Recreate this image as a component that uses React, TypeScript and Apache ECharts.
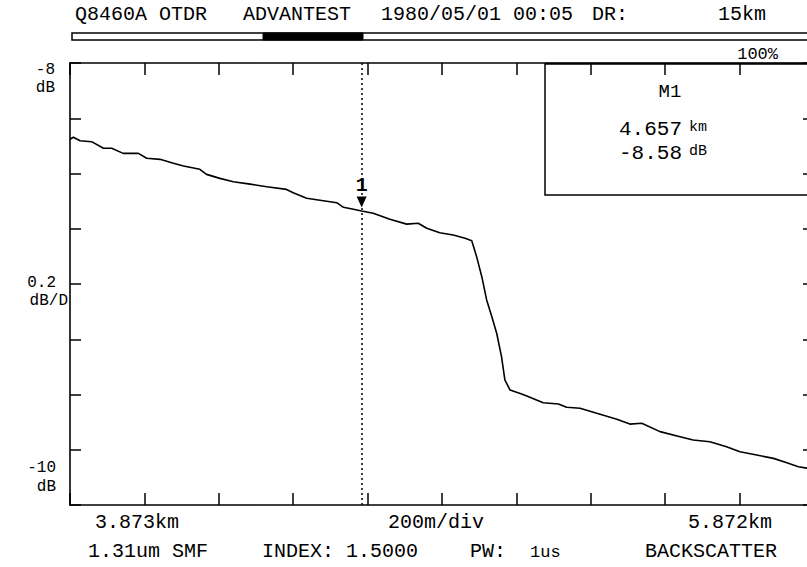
import React, { useEffect, useRef } from "react";
import * as echarts from "echarts";

// ---- data ----
const START_KM = 3.873;
const SPAN_M = 2000;
const DIV_M = 200;
const Y_MIN_DB = -10;
const Y_MAX_DB = -8;
const Y_STEP_DB = 0.25;

const distanceKm = [
  3.873, 3.882, 3.9, 3.931, 3.963, 3.985, 4.016, 4.057, 4.079, 4.115, 4.151,
  4.178, 4.222, 4.24, 4.276, 4.312, 4.357, 4.402, 4.455, 4.473, 4.509, 4.554,
  4.59, 4.608, 4.635, 4.657, 4.688, 4.733, 4.778, 4.809, 4.832, 4.867, 4.903,
  4.935, 4.953, 4.966, 4.98, 4.993, 5.007, 5.02, 5.033, 5.042, 5.056, 5.087,
  5.101, 5.145, 5.186, 5.208, 5.244, 5.289, 5.343, 5.378, 5.41, 5.459, 5.513,
  5.548, 5.593, 5.638, 5.674, 5.719, 5.764, 5.8, 5.831, 5.854, 5.873,
];
const levelDb = [
  -8.345, -8.336, -8.352, -8.356, -8.386, -8.386, -8.409, -8.409, -8.431,
  -8.436, -8.454, -8.466, -8.481, -8.504, -8.522, -8.537, -8.548, -8.56,
  -8.572, -8.587, -8.612, -8.623, -8.632, -8.653, -8.662, -8.67, -8.68,
  -8.707, -8.729, -8.725, -8.748, -8.768, -8.778, -8.793, -8.804, -8.876,
  -8.967, -9.072, -9.148, -9.223, -9.329, -9.434, -9.48, -9.498, -9.507,
  -9.537, -9.543, -9.558, -9.562, -9.585, -9.612, -9.634, -9.63, -9.668,
  -9.691, -9.706, -9.714, -9.736, -9.759, -9.774, -9.789, -9.809, -9.827,
  -9.833, -9.84,
];

const MARKER_KM = 4.657;
const MARKER_TRACE_DB = -8.67;
const MARKER_KM_TEXT = "4.657";
const MARKER_DB_TEXT = "-8.58";

const headerTexts = ["Q8460A OTDR", "ADVANTEST", "1980/05/01 00:05", "DR:", "15km"];
const footerTexts = ["1.31um SMF", "INDEX: 1.5000", "PW:", "1us", "BACKSCATTER"];
const axisTexts = ["3.873km", "200m/div", "5.872km"];
const leftTexts = ["-8", "dB", "0.2", "dB/D", "-10", "dB"];

const MONO = '"Liberation Mono", "DejaVu Sans Mono", monospace';

function txt(text: string, x: number, y: number, size: number, align = "left", weight = "normal") {
  return {
    type: "text",
    x,
    y,
    silent: true,
    style: {
      text,
      font: `${weight} ${size}px ${MONO}`,
      fill: "#000",
      align,
      verticalAlign: "middle",
      textAlign: align,
      textVerticalAlign: "middle",
    },
  };
}

export default function App() {
  const ref = useRef<HTMLDivElement>(null);

  useEffect(() => {
    if (!ref.current) return;
    const chart = echarts.init(ref.current, undefined, { renderer: "svg" });

    const seriesData = distanceKm.map((d, i) => [
      Math.round((d - START_KM) * 1000 * 10) / 10,
      levelDb[i],
    ]);
    const markerX = (MARKER_KM - START_KM) * 1000;

    const xAxisBase = {
      type: "value",
      min: 0,
      max: SPAN_M,
      interval: DIV_M,
      axisLine: { show: true, onZero: false, lineStyle: { color: "#000", width: 1.6 } },
      axisTick: { show: true, inside: true, length: 12, lineStyle: { color: "#000", width: 1.5 } },
      axisLabel: { show: false },
      splitLine: { show: false },
    };
    const yAxisBase = {
      type: "value",
      min: Y_MIN_DB,
      max: Y_MAX_DB,
      interval: Y_STEP_DB,
      axisLine: { show: true, onZero: false, lineStyle: { color: "#000", width: 1.6 } },
      axisTick: { show: true, inside: true, length: 11, lineStyle: { color: "#000", width: 1.5 } },
      axisLabel: { show: false },
      splitLine: { show: false },
    };

    const graphic: any[] = [
      // header
      txt(headerTexts[0], 75, 14, 20),
      txt(headerTexts[1], 243, 14, 20),
      txt(headerTexts[2], 381, 14, 20),
      txt(headerTexts[3], 592, 14, 20),
      txt(headerTexts[4], 718, 14, 20),
      // progress bar
      {
        type: "rect",
        silent: true,
        shape: { x: 72, y: 33, width: 750, height: 7 },
        style: { fill: "none", stroke: "#000", lineWidth: 1.5 },
      },
      {
        type: "rect",
        silent: true,
        shape: { x: 263, y: 33, width: 100, height: 7 },
        style: { fill: "#000", stroke: "#000", lineWidth: 1 },
      },
      txt("100%", 778, 54, 17, "right"),
      {
        type: "line",
        silent: true,
        shape: { x1: 545, y1: 64, x2: 822, y2: 64 },
        style: { stroke: "#000", lineWidth: 2.5 },
      },
      // marker box
      {
        type: "rect",
        silent: true,
        shape: { x: 545, y: 64, width: 290, height: 131 },
        style: { fill: "#fff", stroke: "#000", lineWidth: 1.5 },
      },
      txt("M1", 670, 92, 19, "center"),
      txt(MARKER_KM_TEXT, 682, 129, 21, "right"),
      txt("km", 689, 127, 15),
      txt(MARKER_DB_TEXT, 682, 153, 21, "right"),
      txt("dB", 689, 151, 15),
      // left labels
      txt(leftTexts[0], 55, 70, 16, "right"),
      txt(leftTexts[1], 55, 88, 16, "right"),
      txt(leftTexts[2], 56, 283, 16, "right"),
      txt(leftTexts[3], 68, 301, 16, "right"),
      txt(leftTexts[4], 56, 468, 16, "right"),
      txt(leftTexts[5], 56, 487, 16, "right"),
      // axis annotations
      txt(axisTexts[0], 95, 522, 20),
      txt(axisTexts[1], 388, 522, 20),
      txt(axisTexts[2], 688, 522, 20),
      // footer
      txt(footerTexts[0], 88, 551, 20),
      txt(footerTexts[1], 262, 551, 20),
      txt(footerTexts[2], 470, 551, 20),
      txt(footerTexts[3], 530, 552, 17),
      txt(footerTexts[4], 645, 551, 20),
    ];

    chart.setOption({
      animation: false,
      backgroundColor: "#fff",
      grid: { left: 70, top: 63, width: 744, height: 442, containLabel: false },
      xAxis: [
        { ...xAxisBase, position: "bottom" },
        { ...xAxisBase, position: "top" },
      ],
      yAxis: [
        { ...yAxisBase, position: "left" },
        { ...yAxisBase, position: "right" },
      ],
      series: [
        {
          type: "line",
          xAxisIndex: 0,
          yAxisIndex: 0,
          data: seriesData,
          showSymbol: false,
          symbol: "none",
          silent: true,
          lineStyle: { color: "#000", width: 1.6 },
          markLine: {
            silent: true,
            symbol: "none",
            label: { show: false },
            lineStyle: { color: "#000", type: [2, 3], width: 1.5 },
            data: [{ xAxis: markerX }],
          },
          markPoint: {
            silent: true,
            symbol: "triangle",
            symbolRotate: 180,
            symbolSize: [10, 11],
            symbolOffset: [0, -9],
            itemStyle: { color: "#000" },
            label: {
              show: true,
              position: "top",
              distance: 1,
              formatter: "1",
              color: "#000",
              fontFamily: MONO,
              fontSize: 20,
              fontWeight: "bold",
            },
            data: [{ coord: [markerX, MARKER_TRACE_DB] }],
          },
        },
      ],
      graphic,
    });

    return () => chart.dispose();
  }, []);

  return (
    <div
      style={{ position: "absolute", left: 0, top: 0, width: 807, height: 567, overflow: "hidden", background: "#fff" }}
    >
      <div ref={ref} style={{ width: 830, height: 567 }} />
    </div>
  );
}
